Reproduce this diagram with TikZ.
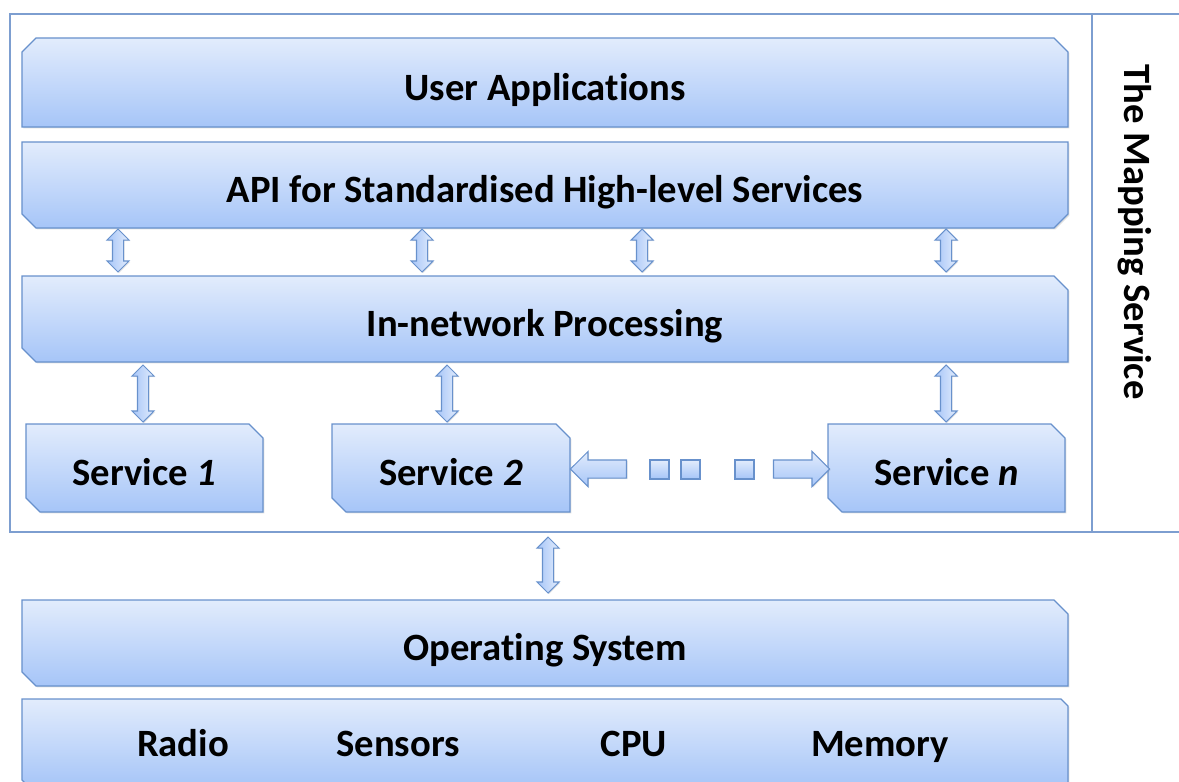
\documentclass[tikz,border=0pt]{standalone}
\usepackage{fontspec}
\setmainfont[Ligatures=NoCommon]{Carlito}
\usetikzlibrary{shapes.misc,shapes.arrows,shadows}
\definecolor{boxtop}{RGB}{226,236,252}
\definecolor{boxbot}{RGB}{166,197,248}
\definecolor{boxline}{RGB}{104,145,204}
\definecolor{framecol}{RGB}{125,158,208}

\begin{document}
\begin{tikzpicture}[x=0.2mm, y=-0.2mm,
    layer/.style={chamfered rectangle, chamfered rectangle xsep=1.4mm, chamfered rectangle ysep=1.4mm,
      draw=boxline, line width=0.7pt, top color=boxtop, bottom color=boxbot, inner sep=0pt,
      text height=22pt, text depth=2pt,
      drop shadow={opacity=0.25, shadow xshift=0.8pt, shadow yshift=-0.8pt}},
    diag/.style={layer, chamfered rectangle corners={north east, south west}},
    lbl/.style={text height=22pt, text depth=2pt},
    vdbl/.style={double arrow, rotate=90, draw=boxline, line width=0.6pt, left color=boxbot, right color=boxtop,
      inner sep=1mm, minimum width=4.2mm, double arrow head extend=1.1mm,
      drop shadow={opacity=0.2, shadow xshift=0.6pt, shadow yshift=-0.6pt}},
    hsgl/.style={single arrow, draw=boxline, line width=0.6pt, top color=boxtop, bottom color=boxbot,
      inner sep=1.7mm, minimum width=6.6mm, single arrow head extend=1.7mm, minimum height=11.2mm,
      drop shadow={opacity=0.2, shadow xshift=0.6pt, shadow yshift=-0.6pt}},
    dot/.style={rectangle, draw=boxline, line width=0.6pt, top color=boxtop, bottom color=boxbot,
      minimum size=3.8mm, inner sep=0pt}]
    \tikzstyle{every node}=[font=\bfseries\fontsize{22}{26}\selectfont]
    \useasboundingbox (0,0) rectangle (1179,782);

    % mapping service frame
    \draw[framecol, line width=0.6pt] (10,14) rectangle (1200,532);
    \draw[framecol, line width=0.6pt] (1092,14) -- (1092,532);
    \node[rotate=-90] (map) at (1135,232) {The Mapping Service};

    % layers
    \node[layer, chamfered rectangle corners={north west, north east}, minimum width=209.2mm, minimum height=17.8mm] (user) at (545,82.5) {User Applications};
    \node[layer, chamfered rectangle corners={south west, south east}, minimum width=209.2mm, minimum height=17.2mm] (api) at (545,185) {API for Standardised High-level Services};
    \node[diag, minimum width=209.2mm, minimum height=17.2mm] (inp) at (545,319) {In-network Processing};

    \node[diag, minimum width=47.4mm, minimum height=17.6mm] (s1) at (144.5,468) {Service \textit{1}};
    \node[diag, minimum width=47.6mm, minimum height=17.6mm] (s2) at (451,468) {Service \textit{2}};
    \node[diag, minimum width=47.4mm, minimum height=17.6mm] (sn) at (946.5,468) {Service \textit{n}};

    \node[diag, minimum width=209.2mm, minimum height=17.2mm] (os) at (545,643) {Operating System};
    \node[diag, minimum width=209.2mm, minimum height=17.6mm] (hw) at (545,743) {};
    \node[lbl] (radio) at (183,738.5) {Radio};
    \node[lbl] (sens) at (398,738.5) {Sensors};
    \node[lbl] (cpu) at (634,738.5) {CPU};
    \node[lbl] (mem) at (880,738.5) {Memory};

    % arrows api <-> in-network
    \node[vdbl, minimum height=8.6mm] (a1) at (118,250.5) {};
    \node[vdbl, minimum height=8.6mm] (a2) at (422,250.5) {};
    \node[vdbl, minimum height=8.6mm] (a3) at (642,250.5) {};
    \node[vdbl, minimum height=8.6mm] (a4) at (946,250.5) {};

    % arrows in-network <-> services
    \node[vdbl, minimum height=11.4mm] (b1) at (143,393.5) {};
    \node[vdbl, minimum height=11.4mm] (b2) at (447,393.5) {};
    \node[vdbl, minimum height=11.4mm] (b3) at (946,393.5) {};

    % services <-> os
    \node[vdbl, minimum height=11.2mm] (c1) at (548,565) {};

    % between service 2 and service n
    \node[hsgl, shape border rotate=180] (left) at (603,469) {};
    \node[dot] (d1) at (659.5,469.5) {};
    \node[dot] (d2) at (690.5,469.5) {};
    \node[dot] (d3) at (744.5,469.5) {};
    \node[hsgl] (right) at (797,469) {};

\end{tikzpicture}
\end{document}
